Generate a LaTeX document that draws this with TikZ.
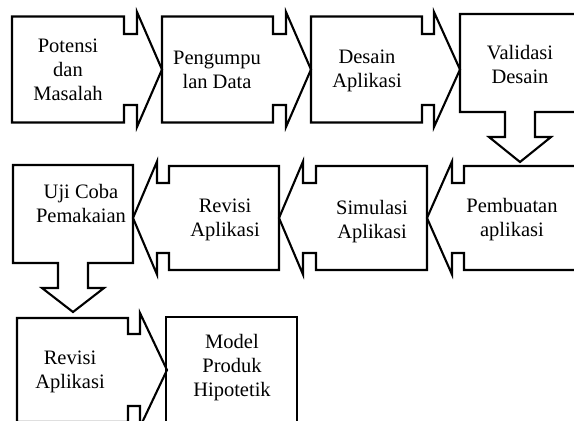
\documentclass[tikz,border=0pt]{standalone}
\usepackage{fontspec}
\setmainfont{Liberation Serif}
% horizontal arrow callout: body edge, notch x, head base x, tip x, centre y, half body, half shaft, half head
\newcommand\hcallout[8]{%
  \draw[shapeline] ({#1},{#5-#6}) -- ({#2},{#5-#6}) -- ({#2},{#5-#7}) -- ({#3},{#5-#7}) -- ({#3},{#5-#8})
    -- ({#4},{#5}) -- ({#3},{#5+#8}) -- ({#3},{#5+#7}) -- ({#2},{#5+#7}) -- ({#2},{#5+#6}) -- ({#1},{#5+#6}) -- cycle;}
% down arrow callout: left x, right x, top y, body bottom y, centre x, half shaft, shaft bottom y, half head, tip y
\newcommand\vcallout[9]{%
  \draw[shapeline] ({#1},{#3}) -- ({#2},{#3}) -- ({#2},{#4}) -- ({#5+#6},{#4}) -- ({#5+#6},{#7}) -- ({#5+#8},{#7})
    -- ({#5},{#9}) -- ({#5-#8},{#7}) -- ({#5-#6},{#7}) -- ({#5-#6},{#4}) -- ({#1},{#4}) -- cycle;}
\begin{document}
\begin{tikzpicture}[x=1pt,y=-1pt,
  shapeline/.style={line width=2.1pt,draw=black},
  lbl/.style={align=center,inner sep=0pt,font=\fontsize{20.5}{24}\selectfont}]
\useasboundingbox (0,0) rectangle (574,421);
\clip (0,0) rectangle (574,421);
% row 1
\hcallout{12}{124}{137}{162}{69.5}{53}{35.5}{57.5}
\hcallout{162}{273}{286}{311}{69.5}{53}{35.5}{57.5}
\hcallout{311}{422}{434}{460}{69.5}{53}{35.5}{57.5}
\vcallout{460}{590}{14}{112}{520}{15}{137}{31}{162}
% row 2
\hcallout{590}{464}{452}{427}{218}{52}{35}{56.5}
\hcallout{427}{316}{303}{279}{218}{52}{35}{56.5}
\hcallout{279}{169}{157}{133}{218}{52}{35}{56.5}
\vcallout{13}{133}{165}{263}{73}{15}{288}{31}{312}
% row 3
\hcallout{17}{128}{140}{167}{370}{52}{36}{57}
\draw[shapeline] (166,317) rectangle (297,426);
% labels
\node[lbl] (t1) at (68,69.5) {Potensi\\dan\\Masalah};
\node[lbl] (t2) at (217,70) {Pengumpu\\lan Data};
\node[lbl] (t3) at (367,71) {Desain\\Aplikasi};
\node[lbl] (t4) at (520,64) {Validasi\\Desain};
\node[lbl] (t5) at (512,220) {Pembuatan\\aplikasi};
\node[lbl] (t6) at (372,222) {Simulasi\\Aplikasi};
\node[lbl] (t7) at (225,220) {Revisi\\Aplikasi};
\node[lbl] (t8) at (81,203) {Uji Coba\\Pemakaian};
\node[lbl] (t9) at (70,372) {Revisi\\Aplikasi};
\node[lbl] (t10) at (232,368) {Model\\Produk\\Hipotetik};
\end{tikzpicture}
\end{document}
